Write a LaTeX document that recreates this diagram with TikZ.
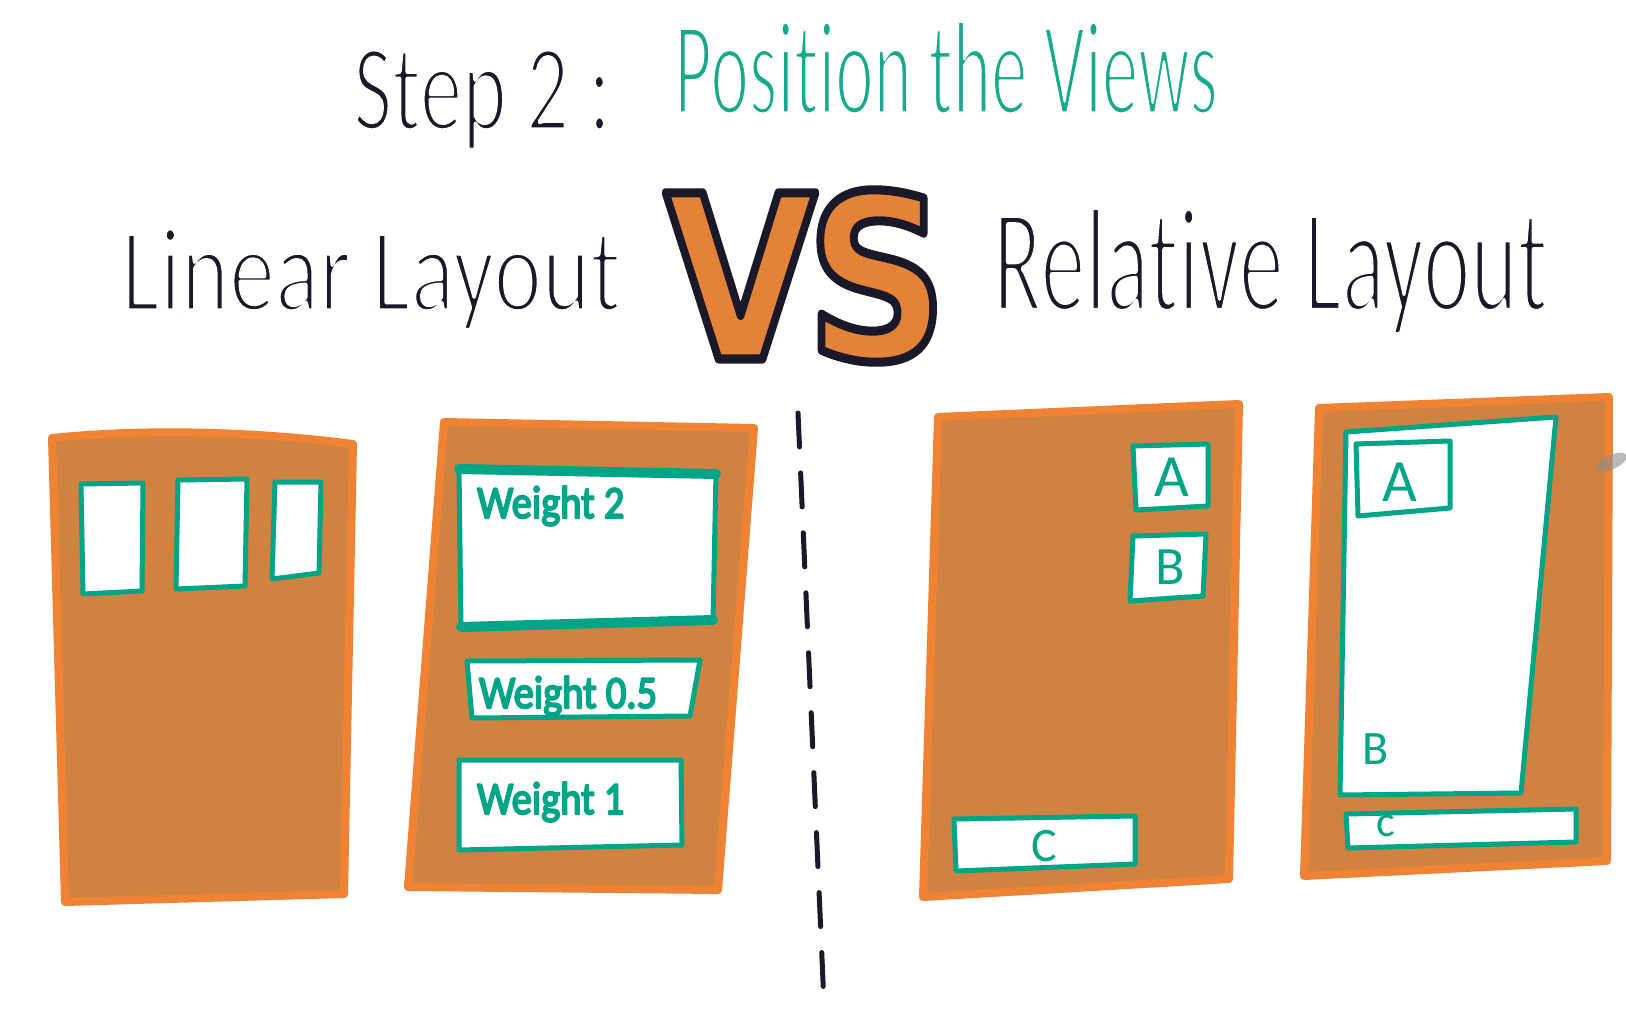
\documentclass[tikz,border=0pt]{standalone}
\usepackage{fontspec}
\usepackage{graphicx}
\setmainfont[Ligatures=NoCommon]{Carlito}
\newfontfamily\vsfont{DejaVu Sans}
\definecolor{ink}{RGB}{25,25,42}
\definecolor{teal1}{RGB}{0,165,135}
\definecolor{teal2}{RGB}{22,170,140}
\definecolor{panelfill}{RGB}{208,130,64}
\definecolor{paneledge}{RGB}{240,130,52}
\definecolor{vsorange}{RGB}{228,130,55}
% thin the glyph stems with a white stroke (text render mode 2)
\newcommand{\thintext}[2]{\special{pdf:code 2 Tr #1 w 1 j 1 1 1 RG}#2\special{pdf:code 0 Tr 1 w}}
% thicken the glyph stems with a teal stroke
\newcommand{\boldtext}[1]{\special{pdf:code 2 Tr 2 w 1 j 0 0.647 0.529 RG}#1\special{pdf:code 0 Tr 1 w}}
\tikzset{
  panel/.style={fill=panelfill, draw=paneledge, line width=8pt, line join=round},
  view/.style={fill=white, draw=teal1, line width=5pt, line join=round},
  heading/.style={anchor=base west, inner sep=0pt, text=ink},
  lbl/.style={anchor=base west, inner sep=0pt, text=teal1, font=\fontsize{46}{50}\selectfont},
  letter/.style={inner sep=0pt, text=teal1},
  vsbase/.style={inner sep=0pt, font=\vsfont\bfseries\fontsize{228}{228}\selectfont},
}
\begin{document}
\begin{tikzpicture}[x=1pt,y=-1pt]
\useasboundingbox (0,0) rectangle (1626,1025);
\fill[white] (0,0) rectangle (1626,1025);

% titles
\node[heading, font=\fontsize{125}{130}\selectfont] (step) at (353,130) {\scalebox{0.68}[1]{\thintext{5}{Step 2 :}}};
\node[heading, text=teal2, font=\fontsize{135}{140}\selectfont] (pos) at (674,114) {\scalebox{0.54}[1]{\thintext{5}{Position the Views}}};
\node[heading, font=\fontsize{121}{125}\selectfont] (lin) at (121,311) {\scalebox{0.76}[1]{\thintext{5}{Linear Layout}}};
\node[heading, font=\fontsize{150}{155}\selectfont] (rel) at (993,311) {\scalebox{0.6}[1]{\thintext{6}{Relative Layout}}};

% VS: orange letters with a dark outline (fill + stroke text mode)
\node[vsbase, text=vsorange] (vs) at (806,276)
  {\scalebox{0.86}[1]{\special{pdf:code 2 Tr 9 w 1 j 0.098 0.098 0.165 RG}V\kern-12pt S\special{pdf:code 0 Tr 1 w}}};

% dashed divider
\coordinate (d1) at (798,413);
\coordinate (d2) at (824,1004);
\draw[ink, line width=5pt, dash pattern=on 34pt off 26pt, line cap=round] (d1) -- (d2);

% Panel 1
\draw[panel] (52,438) .. controls (150,428) and (260,432) .. (353,444) -- (344,894) -- (65,902) -- cycle;
\draw[view] (81,484) -- (143,483) -- (142,591) -- (83,594) -- cycle;
\draw[view] (178,480) -- (247,479) -- (245,586) -- (176,589) -- cycle;
\draw[view] (275,482) -- (321,482) -- (319,573) -- (272,579) -- cycle;

% Panel 2
\draw[panel] (444,422) -- (754,428) -- (718,890) -- (408,887) -- cycle;
\draw[view] (459,467) -- (716,472) -- (713,622) -- (461,629) -- cycle;
\draw[teal1, line width=10pt, line cap=round] (459,469) -- (716,474);
\draw[teal1, line width=10pt, line cap=round] (461,627) -- (713,620);
\draw[view] (467,661) -- (700,660) -- (690,716) -- (472,718) -- cycle;
\draw[view] (459,760) -- (681,760) -- (682,845) -- (459,850) -- cycle;
\node[lbl] (w2) at (477,518) {\scalebox{0.88}[1]{\boldtext{Weight 2}}};
\node[lbl] (w05) at (479,708) {\scalebox{0.88}[1]{\boldtext{Weight 0.5}}};
\node[lbl] (w1) at (477,814) {\scalebox{0.88}[1]{\boldtext{Weight 1}}};

% Panel 3
\draw[panel] (938,417) -- (1239,404) -- (1229,879) -- (923,897) -- cycle;
\draw[view] (1133,446) -- (1208,444) -- (1208,506) -- (1136,510) -- cycle;
\draw[view] (1133,536) -- (1206,534) -- (1203,596) -- (1130,601) -- cycle;
\draw[view] (954,819) -- (1135,816) -- (1135,864) -- (956,871) -- cycle;
\node[letter, font=\fontsize{60}{60}\selectfont] (a1) at (1172,477) {A};
\node[letter, font=\fontsize{54}{54}\selectfont] (b1) at (1170,567) {B};
\node[letter, font=\fontsize{48}{48}\selectfont] (c1) at (1044,846) {C};

% Panel 4
\draw[panel] (1319,408) -- (1609,397) -- (1607,861) -- (1304,876) -- cycle;
\draw[view] (1346,432) -- (1556,417) -- (1521,793) -- (1340,795) -- cycle;
\draw[view] (1356,444) -- (1450,441) -- (1450,508) -- (1358,516) -- cycle;
\draw[view] (1346,814) -- (1576,809) -- (1576,842) -- (1348,848) -- cycle;
\node[letter, font=\fontsize{60}{60}\selectfont] (a2) at (1400,482) {A};
\node[letter, font=\fontsize{48}{48}\selectfont] (b2) at (1376,749) {B};
\node[letter, font=\fontsize{44}{44}\selectfont] (c2) at (1386,826) {c};

% smudge at right edge
\fill[black!45, opacity=0.6, rotate around={25:(1612,462)}] (1612,462) ellipse (16 and 7);
\end{tikzpicture}
\end{document}
